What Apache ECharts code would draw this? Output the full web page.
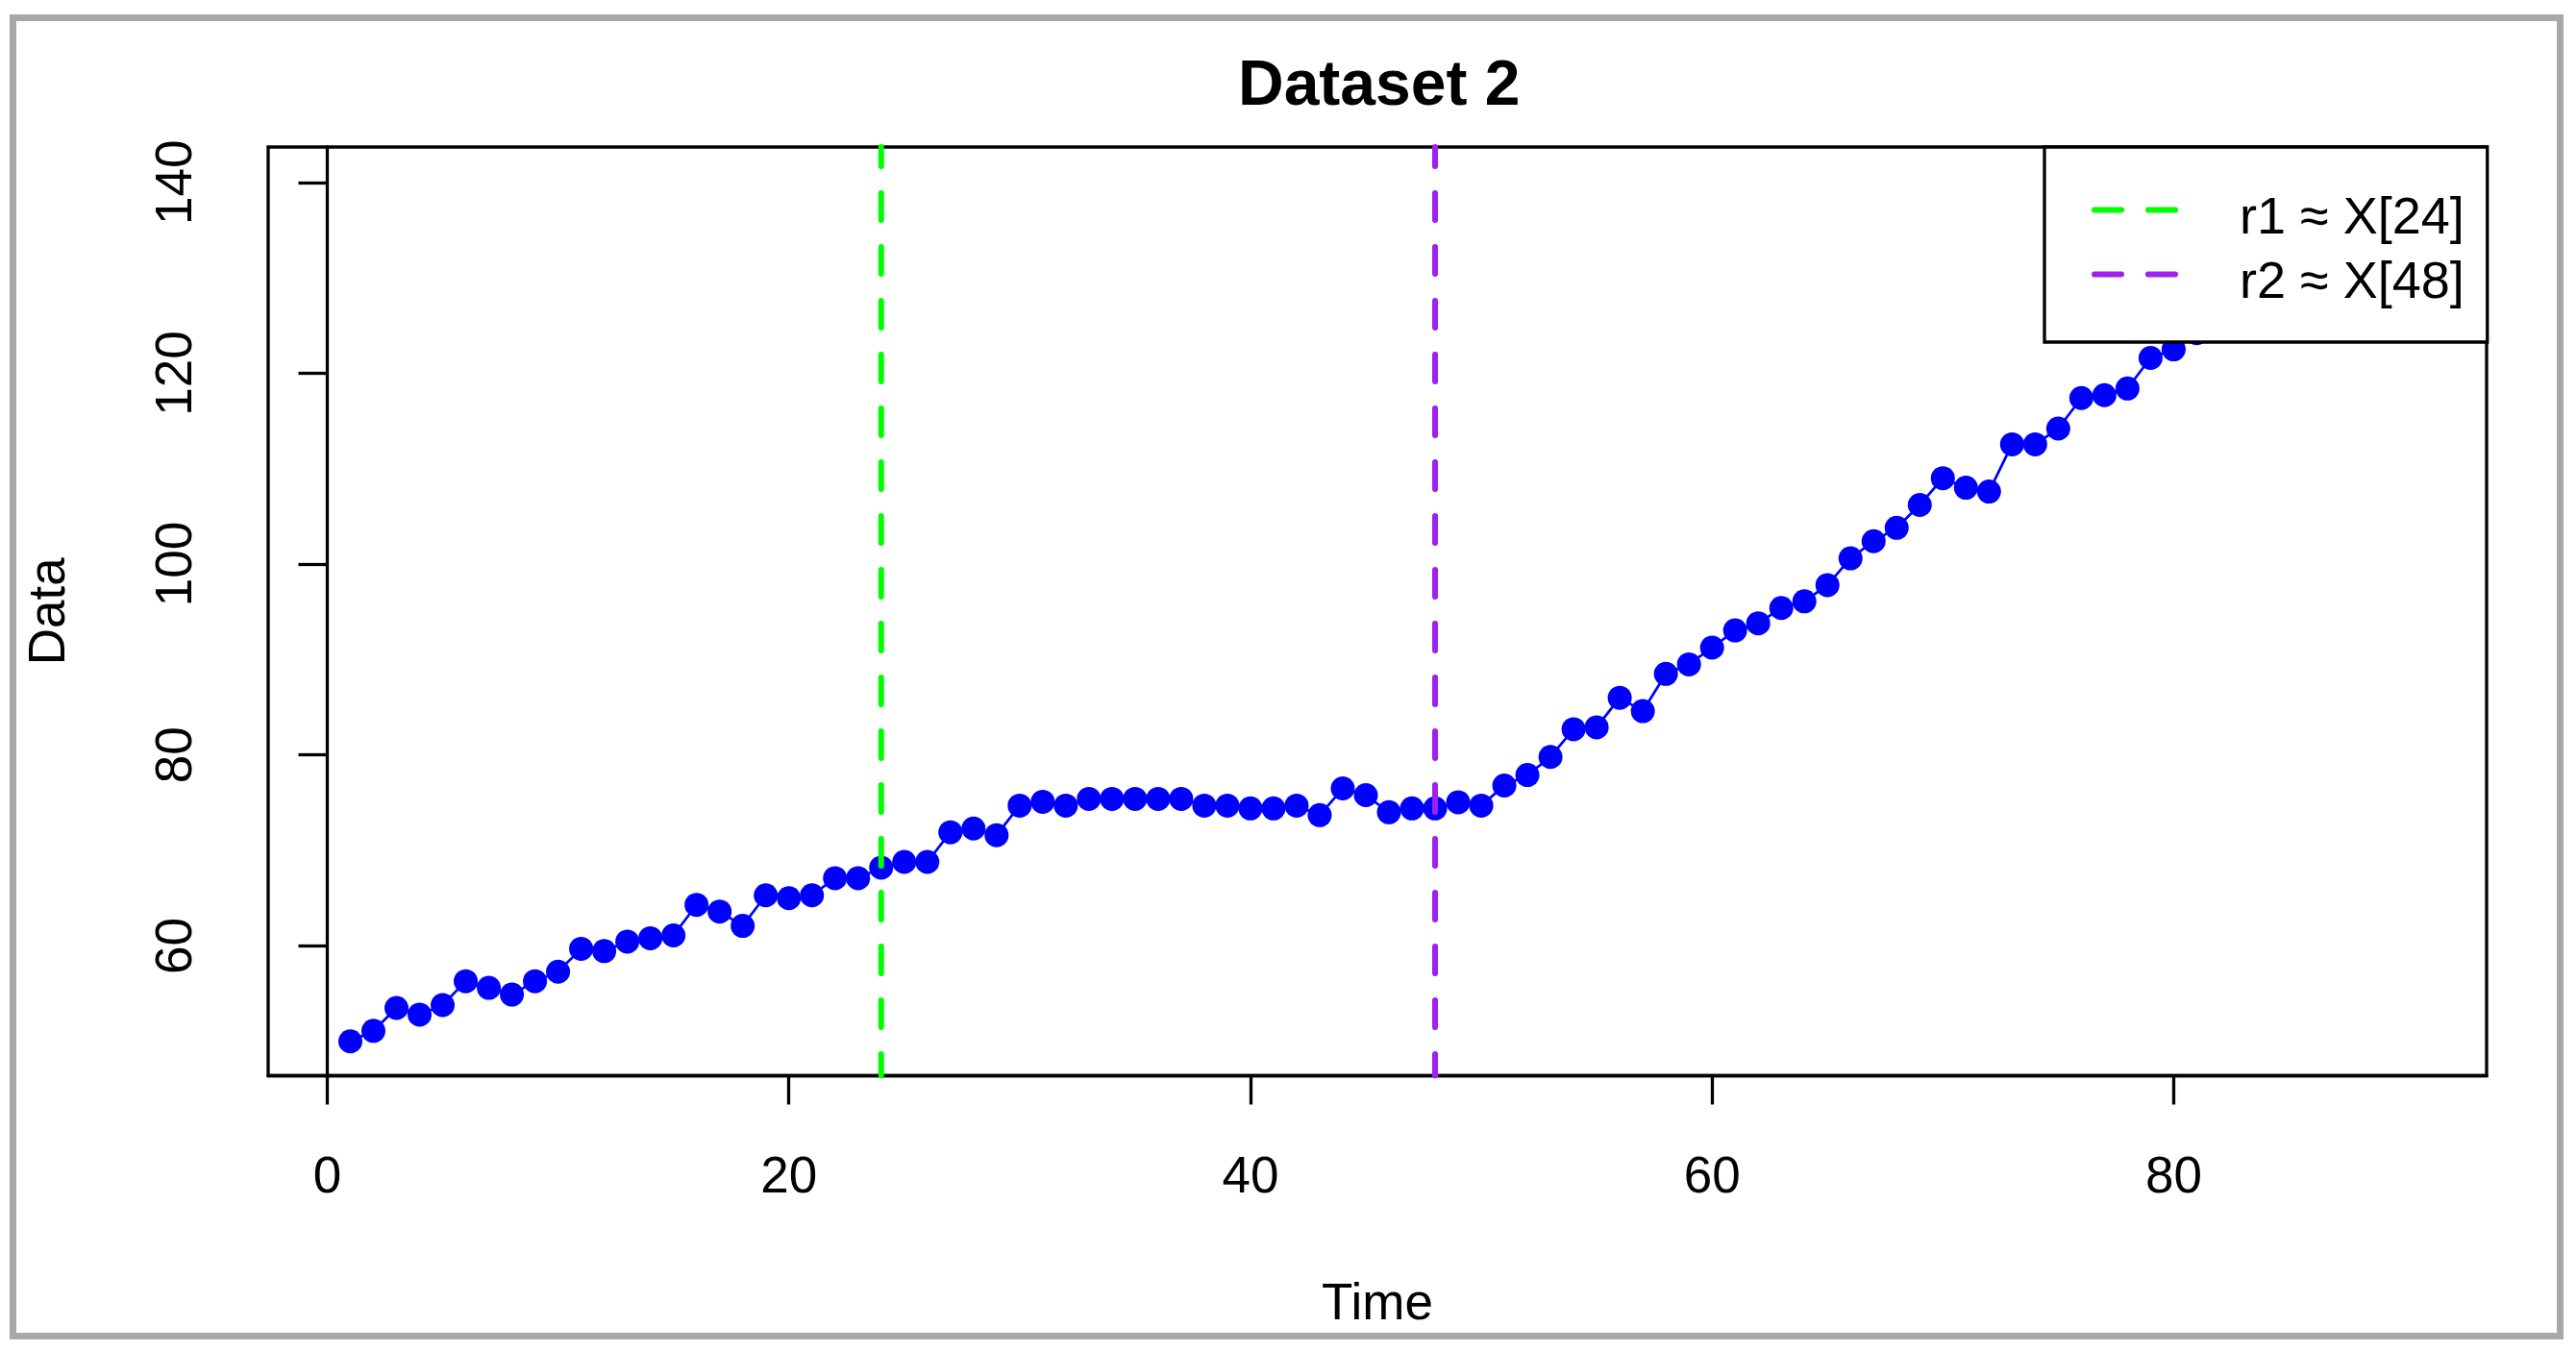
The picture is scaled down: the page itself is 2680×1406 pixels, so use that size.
<!DOCTYPE html>
<html>
<head>
<meta charset="utf-8">
<script src="https://cdn.jsdelivr.net/npm/echarts@6/dist/echarts.min.js"></script>
<style>
html,body{margin:0;padding:0;background:#fff;}
#chart{width:2680px;height:1406px;}
</style>
</head>
<body>
<div id="chart"></div>
<script>
// ---- data ----
const time = [1,2,3,4,5,6,7,8,9,10,11,12,13,14,15,16,17,18,19,20,21,22,23,24,25,26,27,28,29,30,
  31,32,33,34,35,36,37,38,39,40,41,42,43,44,45,46,47,48,49,50,51,52,53,54,55,56,57,58,59,60,
  61,62,63,64,65,66,67,68,69,70,71,72,73,74,75,76,77,78,79,80,81,82,83,84,85,86,87,88,89,90];
const values = [50.0,51.1,53.5,52.8,53.8,56.3,55.6,54.9,56.3,57.3,
  59.7,59.45,60.45,60.8,61.1,64.3,63.6,62.1,65.3,65.0,
  65.3,67.1,67.1,68.2,68.8,68.8,71.9,72.3,71.6,74.7,
  75.1,74.7,75.4,75.4,75.4,75.4,75.4,74.7,74.7,74.4,
  74.4,74.7,73.7,76.5,75.8,74.0,74.4,74.4,75.05,74.7,
  76.8,77.9,79.8,82.7,82.9,86.0,84.6,88.5,89.5,91.25,
  93.05,93.8,95.4,96.1,97.8,100.6,102.4,103.8,106.2,109.0,
  108.0,107.6,112.55,112.55,114.2,117.4,117.7,118.4,121.6,122.5,
  124.2,125.8,127.0,129.3,130.6,132.8,134.1,136.4,138.0,140.1];
const r1 = 24;
const r2 = 48;
const r1Name = 'r1 \u2248 X[24]';
const r2Name = 'r2 \u2248 X[48]';
const xTicks = [0,20,40,60,80];
const yTicks = [60,80,100,120,140];
const xRange = [-2.56, 93.56];
const yRange = [46.4, 143.7];

const FONT = "'Liberation Sans', Arial, Helvetica, sans-serif";
const points = time.map((t,i)=>[t, values[i]]);

// dashed-line legend glyph (two round-capped dashes sitting in the upper part of the icon box)
const dashIcon = 'path://M3,0 L31,0 A3,3 0 0 1 31,6 L3,6 A3,3 0 0 1 3,0 Z ' +
                 'M59,0 L87,0 A3,3 0 0 1 87,6 L59,6 A3,3 0 0 1 59,0 Z ' +
                 'M0,25 L0.01,25 L0,24.99 Z M90,25 L89.99,25 L90,24.99 Z';

const chart = echarts.init(document.getElementById('chart'), null, {renderer:'canvas'});
const vDash = {width:6, type:[28,28], cap:'round', dashOffset:8};
chart.setOption({
  animation:false,
  backgroundColor:'#fff',
  title:{
    text:'Dataset 2', left:1288, top:58, padding:0,
    textStyle:{fontFamily:FONT, fontWeight:'bold', fontSize:66, color:'#000'}
  },
  grid:{left:279, top:153, width:2308, height:966.5, show:true, borderColor:'#000', borderWidth:3.3, backgroundColor:'transparent', containLabel:false},
  xAxis:{
    type:'value', min:xRange[0], max:xRange[1],
    name:'Time', nameLocation:'middle', nameGap:212,
    nameTextStyle:{fontFamily:FONT, fontSize:53, color:'#000'},
    axisLine:{show:true, lineStyle:{color:'#000', width:3.3}},
    axisTick:{show:true, inside:false, length:30, customValues:xTicks, lineStyle:{color:'#000', width:3.3}},
    axisLabel:{show:true, customValues:xTicks, margin:80, fontFamily:FONT, fontSize:53, color:'#000'},
    splitLine:{show:false}
  },
  yAxis:{
    type:'value', min:yRange[0], max:yRange[1],
    name:'Data', nameLocation:'middle', nameGap:200, nameRotate:90,
    nameTextStyle:{fontFamily:FONT, fontSize:53, color:'#000'},
    axisLine:{show:true, lineStyle:{color:'#000', width:3.3}},
    axisTick:{show:true, inside:false, length:30, customValues:yTicks, lineStyle:{color:'#000', width:3.3}},
    axisLabel:{show:true, customValues:yTicks, rotate:90, margin:68, fontFamily:FONT, fontSize:53, color:'#000'},
    splitLine:{show:false}
  },
  legend:{
    show:true, orient:'vertical', left:2127, top:153,
    padding:[48, 24, 34, 49], itemGap:13,
    itemWidth:90, itemHeight:25,
    icon:dashIcon,
    backgroundColor:'#fff', borderColor:'#000', borderWidth:3.3, borderRadius:0,
    data:[r1Name, r2Name],
    itemStyle:{borderWidth:0},
    textStyle:{fontFamily:FONT, fontSize:54, lineHeight:53, color:'#000', padding:[0,0,0,59]},
    selectedMode:false
  },
  graphic:[{
    type:'rect', silent:true, z:100,
    shape:{x:13.5, y:18.5, width:2650, height:1372},
    style:{fill:null, stroke:'#a8a8a8', lineWidth:7}
  }],
  series:[
    {
      name:'Data', type:'line', data:points,
      symbol:'circle', symbolSize:25, showSymbol:true,
      itemStyle:{color:'#0000ff'},
      lineStyle:{color:'#0000ff', width:2.7},
      clip:true, z:2
    },
    {
      name:r1Name, type:'line', data:[[r1, yRange[1]],[r1, yRange[0]]],
      symbol:'none', itemStyle:{color:'#00ff00'},
      lineStyle:Object.assign({color:'#00ff00'}, vDash), z:3
    },
    {
      name:r2Name, type:'line', data:[[r2, yRange[1]],[r2, yRange[0]]],
      symbol:'none', itemStyle:{color:'#a020f0'},
      lineStyle:Object.assign({color:'#a020f0'}, vDash), z:3
    }
  ]
});
</script>
</body>
</html>
